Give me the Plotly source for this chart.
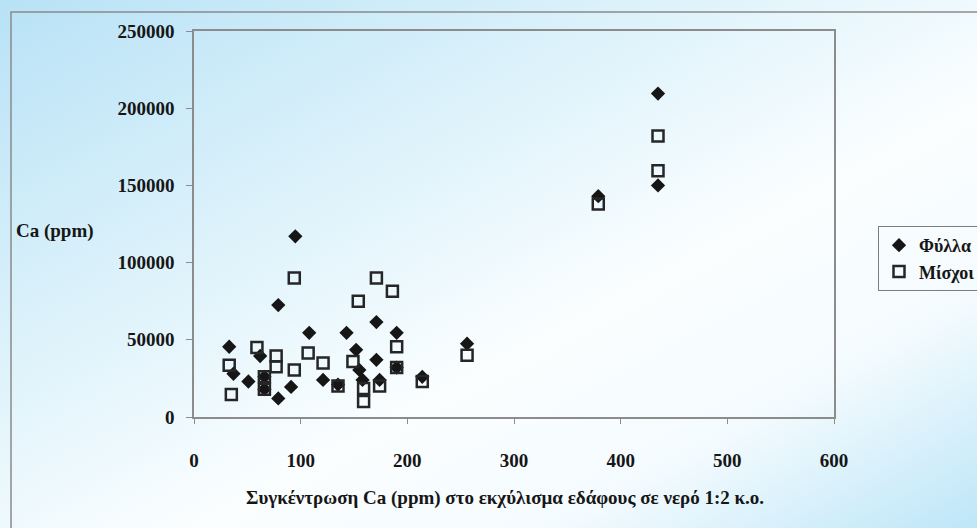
import base64
import plotly.graph_objects as go

# Ca in soil 1:2 water extract (ppm) vs Ca in plant tissue (ppm)
leaf_x = [33, 37, 51, 62, 66, 66, 79, 79, 91, 95, 108, 121, 135, 143, 152,
          155, 158, 171, 171, 174, 190, 190, 214, 256, 379, 435, 435]
leaf_y = [45500, 28000, 23000, 39500, 26000, 18000, 72500, 12000, 19500, 117000,
          54500, 24000, 21000, 54500, 43500, 30500, 24000, 61500, 37000, 24000,
          54500, 32000, 26000, 47500, 143000, 209500, 150000]

petiole_x = [33, 35, 59, 66, 66, 77, 77, 94, 94, 107, 121, 135, 149, 154, 159,
             159, 171, 174, 186, 190, 190, 214, 256, 379, 435, 435]
petiole_y = [33500, 14500, 45000, 26000, 18000, 39500, 32500, 30500, 90000, 41500,
             35000, 20000, 36000, 75000, 18500, 10000, 90000, 20000, 81500, 45500,
             32000, 23000, 40000, 138000, 182000, 159500]

x_ticks = [0, 100, 200, 300, 400, 500, 600]
y_ticks = [0, 50000, 100000, 150000, 200000, 250000]

series_names = ["Φύλλα", "Μίσχοι"]
x_title = "Συγκέντρωση Ca (ppm) στο εκχύλισμα εδάφους σε νερό 1:2 κ.ο."
y_title = "Ca (ppm)"

W, H = 977, 528
ML, MR, MT, MB = 194, 143, 31, 111
PW, PH = W - ML - MR, H - MT - MB

def px_x(p):
    return (p - ML) / PW

def px_y(p):
    return (H - MB - p) / PH

FONT = "Liberation Serif"
INK = "#161616"

# soft diagonal sky-blue backdrop
svg = (
    "<svg xmlns='http://www.w3.org/2000/svg' width='977' height='528' preserveAspectRatio='none'>"
    "<defs><linearGradient id='g' x1='0' y1='0' x2='1' y2='1'>"
    "<stop offset='0' stop-color='#b8e2f6'/>"
    "<stop offset='0.42' stop-color='#e6f6fc'/>"
    "<stop offset='0.6' stop-color='#fbfeff'/>"
    "<stop offset='0.78' stop-color='#f4fbfe'/>"
    "<stop offset='1' stop-color='#bde6f8'/>"
    "</linearGradient></defs>"
    "<rect width='977' height='528' fill='url(#g)'/></svg>"
)
bg_src = "data:image/svg+xml;base64," + base64.b64encode(svg.encode()).decode()

fig = go.Figure()
fig.add_trace(go.Scatter(
    x=leaf_x, y=leaf_y, mode="markers", name=series_names[0], legendgroup="a",
    marker=dict(symbol="diamond", size=11, color=INK, line=dict(width=0)),
))
fig.add_trace(go.Scatter(
    x=petiole_x, y=petiole_y, mode="markers", name=series_names[1], legendgroup="b",
    marker=dict(symbol="square-open", size=11, color="#262626", line=dict(width=2.5)),
))

fig.update_layout(
    width=W, height=H,
    margin=dict(l=ML, r=MR, t=MT, b=MB, autoexpand=False),
    paper_bgcolor="white",
    plot_bgcolor="rgba(0,0,0,0)",
    font=dict(family=FONT, size=19, color=INK, weight="bold"),
    showlegend=True,
    legend=dict(
        x=px_x(878), y=px_y(226), xanchor="left", yanchor="top",
        bgcolor="rgba(255,255,255,0)", bordercolor="#7d7d7d", borderwidth=1,
        font=dict(family=FONT, size=18, color=INK, weight="bold"),
        traceorder="grouped", tracegroupgap=0, itemwidth=30,
    ),
    xaxis=dict(
        range=[0, 600], tickvals=x_ticks, ticktext=[str(v) for v in x_ticks],
        showgrid=False, zeroline=False, showline=True, linecolor="#8c8c8c",
        linewidth=1.5, mirror=True, ticks="outside", ticklen=5, tickcolor="#8c8c8c",
        ticklabelstandoff=20,
    ),
    yaxis=dict(
        range=[0, 250000], tickvals=y_ticks, ticktext=[str(v) for v in y_ticks],
        showgrid=False, zeroline=False, showline=True, linecolor="#8c8c8c",
        linewidth=1.5, mirror=True, ticks="outside", ticklen=6, tickcolor="#8c8c8c",
        ticklabelstandoff=8,
    ),
    images=[dict(
        source=bg_src, xref="paper", yref="paper",
        x=px_x(0), y=px_y(0), sizex=W / PW, sizey=H / PH,
        xanchor="left", yanchor="top", sizing="stretch", layer="below",
    )],
    shapes=[dict(
        type="rect", xref="paper", yref="paper",
        x0=px_x(11), y0=px_y(12), x1=px_x(W + 20), y1=px_y(H + 20),
        line=dict(color="#8a8a8a", width=1.5), fillcolor="rgba(0,0,0,0)", layer="above",
    )],
    annotations=[
        dict(text=y_title, xref="paper", yref="paper", x=px_x(14), y=px_y(231),
             xanchor="left", yanchor="middle", showarrow=False,
             font=dict(family=FONT, size=19, color=INK, weight="bold")),
        dict(text=x_title, xref="paper", yref="paper", x=px_x(505), y=px_y(498),
             xanchor="center", yanchor="middle", showarrow=False,
             font=dict(family=FONT, size=19, color=INK, weight="bold")),
    ],
)

fig.write_html("out.html")
